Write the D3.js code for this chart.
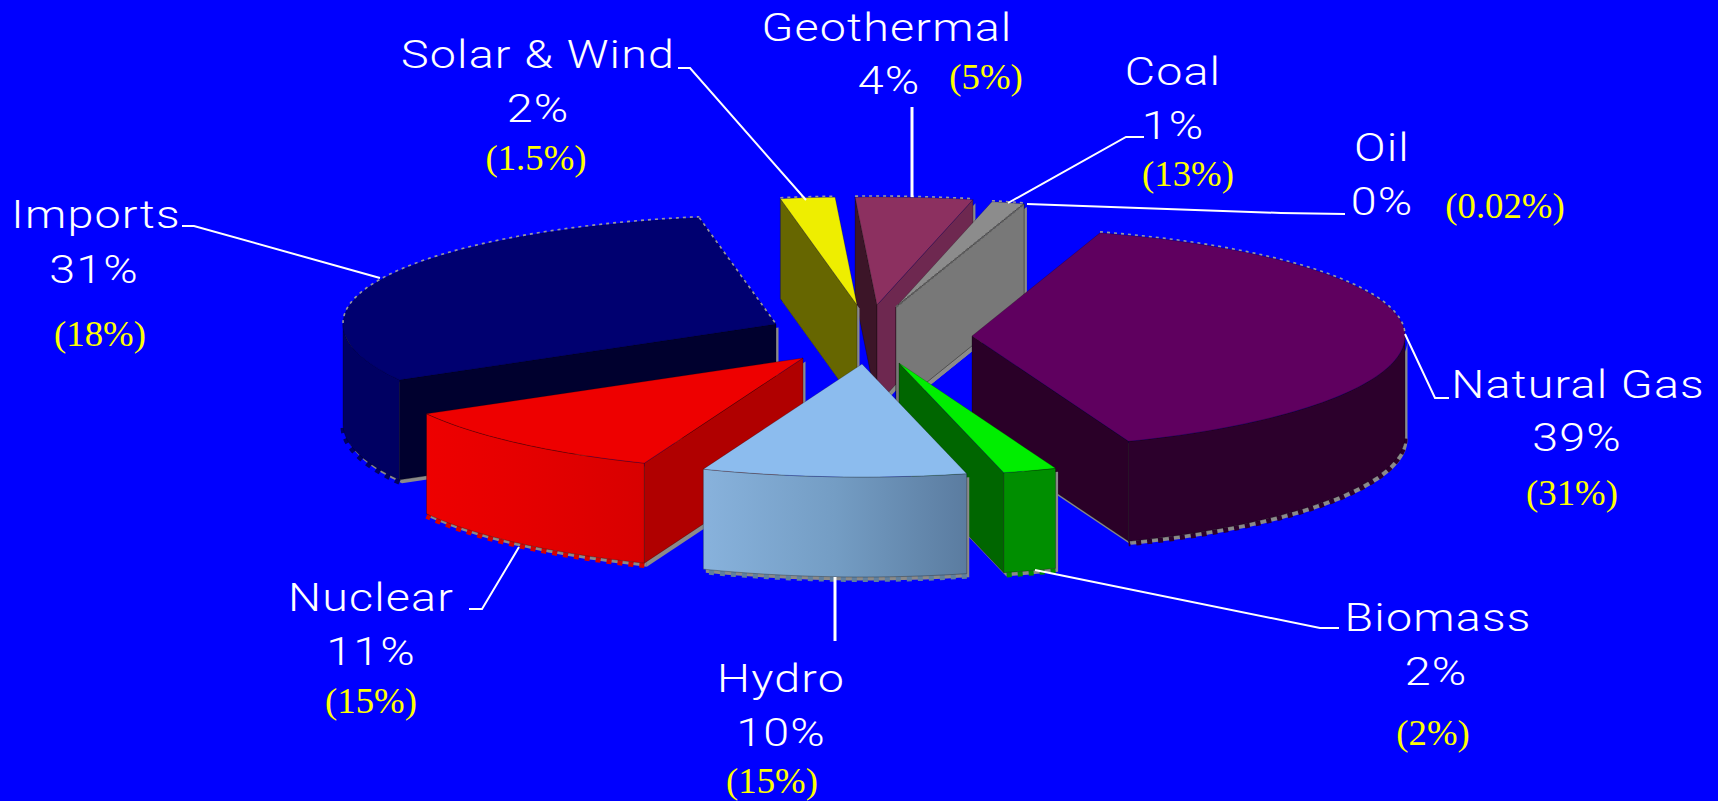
<!DOCTYPE html>
<html><head><meta charset="utf-8">
<script src="https://cdn.jsdelivr.net/npm/d3@7/dist/d3.min.js"></script>
<style>html,body{margin:0;padding:0;background:#0000ff;overflow:hidden}svg{display:block}</style>
</head><body><svg id="c" width="1718" height="801"></svg>
<script>
// ---- data ----
const categories = ["Natural Gas","Biomass","Hydro","Nuclear","Imports","Solar & Wind","Geothermal","Coal","Oil"];
const shares     = [39,2,10,11,31,2,4,1,0];
const bracketed  = [31,2,15,15,18,1.5,5,13,0.02];

// ---- styling ----
const explodeX   = [106,33,-4,-63,-90,-9,11,30,30];
const explodeY   = [2,29,30,24,-10,-29,-29,-27,-27];
const edgeWarp   = [0,1.2,1.2,0.7,0,-2.2,-2.1,-0.8,0,0]; // degrees: view distortion of slice edges
const topFill    = ["#5f005f","#00ee00","#8cbcee","#ee0000","#000070","#eeee00","#8c3060","#8c8c8c","#8c8c8c"];
const rimFill    = ["#2c002c","#008e00","url(#hydroWall)","url(#nuclearWall)","#000062","#666600","#6e2850","#707070","#707070"];
const rimDash    = ["#2c002c","#008e00","#5f7f9f","#d80000","#000062","#666600","#6e2850","#707070","#707070"];
const startFace  = ["#2a0028","#006600","#5b7ca0","#b00000","#00002e","#666600","#3c1528","#707070","#8c8c8c"];
const endFace    = ["#2a0028","#006600","#88b2dc","#b00000","#00002e","#666600","#6e2850","#707070","#787878"];
// label anchors: [name x, name y, share x, share y, bracket x, bracket y]
const labelAt = [
 [1578,398,1577,451,1572,505],[1438,631,1436,685,1433,745],[781,692,781,746,772,793],
 [371,611,371,665,371,713],[96,228,94,283,100,346],[538,68,538,122,536,170],
 [887,41,889,94,986,89],[1173,85,1173,139,1188,186],[1382,161,1382,215,1505,218]];
const leaders = [
 [[1449,398],[1435,398],[1405,334]],[[1339,628],[1320,628],[1035,570]],[[835,577],[835,641]],
 [[469,609],[482,609],[519,547]],[[182,226],[194,226],[380,278]],[[678,68],[690,68],[806,200]],
 [[912,107],[912,197]],[[1144,137],[1126,137],[1008,203]],[[1345,214],[1281,213],[1027,204]]];
const leaderWidth = [2,2,3,2,2,2,3,2,2];

const center = {x:866, y:334}, Rx = 433, RyBack = 108, RyFront = 113, depth = 100;
const DEG = Math.PI/180, startDeg = 17.2;

const svg = d3.select("#c");
svg.append("rect").attr("width",1718).attr("height",801).attr("fill","#0000ff");
const defs = svg.append("defs");
function grad(id, stops){
  const g = defs.append("linearGradient").attr("id",id).attr("x1",0).attr("x2",1).attr("y1",0).attr("y2",0);
  stops.forEach((c,i)=>g.append("stop").attr("offset",i/(stops.length-1)).attr("stop-color",c));
}
grad("hydroWall",["#88b2dc","#749dc4","#5b7ca0"]);
grad("nuclearWall",["#ee0000","#e40000","#d80000"]);

const pie = d3.pie().sort(null).value(d=>d).startAngle(startDeg*DEG).endAngle(startDeg*DEG+2*Math.PI);
const arcs = pie(shares);
const line = d3.line();

const slices = arcs.map((raw,i)=>{
  const a = {startAngle: raw.startAngle+edgeWarp[i]*DEG, endAngle: raw.endAngle+edgeWarp[i+1]*DEG};
  const bis = (a.startAngle+a.endAngle)/2;
  const ax = center.x + explodeX[i];
  const ay = center.y + explodeY[i];
  const P = (t,z=0)=>{const c=Math.cos(t);return [ax+Rx*Math.sin(t), ay-(c>0?RyBack:RyFront)*c+z];};
  return {i,a,bis,ax,ay,P};
});

function arcPts(s,t0,t1,z){
  const n = Math.max(2,Math.ceil((t1-t0)/(1.5*DEG)));
  return d3.range(n+1).map(k=>s.P(t0+(t1-t0)*k/n,z));
}
function faceVisible(s,t){
  if (s.a.endAngle===s.a.startAngle) return true;
  const e = s.P(t), b = s.P(s.bis);
  if (Math.abs(e[0]-s.ax)<1e-6) return false;
  const yAt = s.ay+(b[0]-s.ax)*(e[1]-s.ay)/(e[0]-s.ax);
  return b[1] < yAt;
}
function faceLayers(s){
  const {a} = s, L = [];
  [[a.startAngle,startFace[s.i]],[a.endAngle,endFace[s.i]]].forEach(([t,col])=>{
    if(!faceVisible(s,t)) return;
    L.push({pts:[[s.ax,s.ay],s.P(t),s.P(t,depth),[s.ax,s.ay+depth]],fill:col});
  });
  [0,2*Math.PI].forEach(shift=>{
    const t0 = Math.max(a.startAngle,Math.PI/2+shift), t1 = Math.min(a.endAngle,1.5*Math.PI+shift);
    if(t1>t0) L.push({pts:[...arcPts(s,t0,t1,0),...arcPts(s,t0,t1,depth).reverse()],fill:rimFill[s.i],t0,t1,wall:true});
  });
  return L;
}

// back-to-front: slices pointing away from the viewer first
const order = slices.slice().sort((p,q)=>Math.cos(q.bis)-Math.cos(p.bis));
order.forEach(s=>{
  const g = svg.append("g").attr("class","slice").attr("data-name",categories[s.i]);
  const L = faceLayers(s);
  L.forEach(f=>g.append("path").attr("d",line(f.pts)+"Z").attr("fill","#8a8a8a").attr("transform","translate(2.5,3.5)"));
  L.filter(f=>f.wall).forEach(f=>{
    g.append("path").attr("d",line(arcPts(s,f.t0,f.t1,depth+2.5))).attr("fill","none")
      .attr("stroke",rimDash[s.i]).attr("stroke-width",5).attr("stroke-dasharray","5 6");
  });
  L.forEach(f=>g.append("path").attr("d",line(f.pts)+"Z").attr("fill",f.fill)
      .attr("stroke","#000").attr("stroke-opacity",.28).attr("stroke-width",1));
  const topPts = [[s.ax,s.ay],...arcPts(s,s.a.startAngle,s.a.endAngle,0)];
  if(s.a.endAngle>s.a.startAngle){
    g.append("path").attr("d",line(topPts)+"Z").attr("fill",topFill[s.i])
      .attr("stroke","#000").attr("stroke-opacity",.22).attr("stroke-width",1);
    const back0 = s.a.startAngle, back1 = s.a.endAngle;
    [[back0,Math.min(back1,Math.PI/2)],[Math.max(back0,1.5*Math.PI),back1]].forEach(([u,v])=>{
      if(v>u) g.append("path").attr("d",line(arcPts(s,u,v,-1))).attr("fill","none")
        .attr("stroke","#9a9a9a").attr("stroke-width",1.6).attr("stroke-dasharray","3 4");
    });
    if(s.i===4){
      g.append("path").attr("d",line([s.P(s.a.endAngle),[s.ax,s.ay]])).attr("fill","none")
        .attr("stroke","#9a9a9a").attr("stroke-width",1.6).attr("stroke-dasharray","3 4");
    }
  } else {
    g.append("path").attr("d",line([[s.ax,s.ay],s.P(s.a.startAngle)])).attr("fill","none")
      .attr("stroke","#5c5c5c").attr("stroke-width",2).attr("stroke-dasharray","3 2");
  }
});

svg.append("g").selectAll("path").data(leaders).join("path")
  .attr("d",d=>line(d)).attr("fill","none").attr("stroke","#fff").attr("stroke-width",(d,i)=>leaderWidth[i]);

const labels = svg.append("g");
function put(txt,x,y,size,family,fill,sx,ls,weight){
  labels.append("text").text(txt).attr("text-anchor","middle")
    .attr("transform",`translate(${x},${y}) scale(${sx},1)`)
    .attr("font-family",family).attr("font-size",size).attr("fill",fill)
    .attr("letter-spacing",ls).attr("font-weight",weight);
}
const sans = "Roboto,'Liberation Sans',sans-serif", serif = "'Liberation Serif','Times New Roman',serif";
categories.forEach((c,i)=>{
  const p = labelAt[i];
  put(c,p[0],p[1],39.5,sans,"#fff",1.18,1,300);
  put(shares[i]+"%",p[2],p[3],39.5,sans,"#fff",1.18,1,300);
  put("("+bracketed[i]+"%)",p[4],p[5],35,serif,"#ffff00",1.05,0,400);
});
</script></body></html>
